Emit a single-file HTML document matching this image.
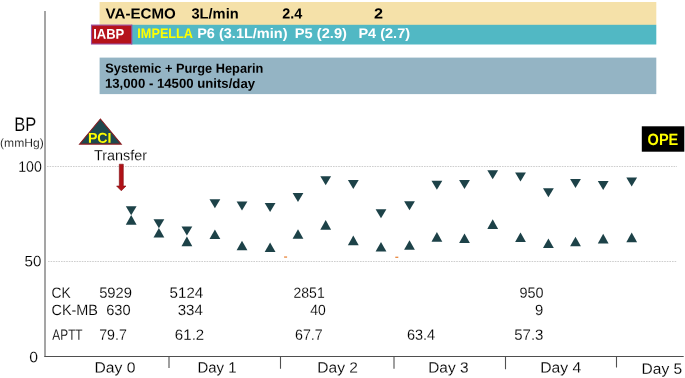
<!DOCTYPE html>
<html><head><meta charset="utf-8"><title>Clinical course</title>
<style>
html,body{margin:0;padding:0;background:#fff;}
svg{display:block;font-family:"Liberation Sans",sans-serif;text-rendering:geometricPrecision;}
.t{stroke:#fff;stroke-width:0.14px;}
</style></head><body>
<svg width="685" height="378" viewBox="0 0 685 378" role="img" aria-label="Clinical course chart">
<rect width="685" height="378" fill="#fff"/>
<rect x="99.6" y="2" width="556.7" height="23" fill="#f5e1a9"/>
<rect x="131" y="24.8" width="525.3" height="19.7" fill="#51b8c4"/>
<rect x="91.5" y="25.1" width="40.3" height="18.9" fill="#b5121b" stroke="#9a4fa0" stroke-width="1.1"/>
<rect x="99.6" y="57.6" width="556.7" height="36.5" fill="#94b4c4"/>
<g stroke="#cecece" stroke-width="1" stroke-dasharray="1.6 1" fill="none">
<path d="M47 166.5H677"/><path d="M48 261.5H677"/>
</g>
<g fill="none">
<path d="M45 11V356.9" stroke="#787878" stroke-width="1.33"/>
<path d="M169 356.4V367.9M394 356.4V368.8" stroke="#707070" stroke-width="1.33"/>
<path d="M280.5 356.4V368.8M505.5 356.4V369.3M616.5 356.4V367.6" stroke="#505050" stroke-width="1.1"/>
<path d="M44.4 356.4H683.7" stroke="#4f4f4f" stroke-width="1.05"/>
</g>
<path d="M100.4 119L121.2 144.1H79.6z" fill="#1f484e" stroke="#8a1c20" stroke-width="1.1" stroke-linejoin="miter"/>
<path d="M119.3 164.2h4v21.8h2.7l-4.7 4.8l-4.7-4.8h2.7z" fill="#b01217" stroke="#7f0d11" stroke-width="0.6" stroke-linejoin="miter"/>
<rect x="641.8" y="126.3" width="42.5" height="25.4" fill="#000"/>
<g fill="#e5721c"><rect x="284.1" y="256.5" width="3" height="1.1"/><rect x="395.3" y="256.7" width="3" height="1.1"/></g>
<g fill="#1d4248">
<path d="M125.8 206.3h10.8l-5.4 9.0z"/>
<path d="M131.2 215.1l5.4 9.6h-10.8z"/>
<path d="M153.5 219.2h10.8l-5.4 9.0z"/>
<path d="M158.9 228.0l5.4 9.6h-10.8z"/>
<path d="M181.5 226.4h10.8l-5.4 9.0z"/>
<path d="M186.9 236.6l5.4 9.6h-10.8z"/>
<path d="M209.5 199.2h10.8l-5.4 9.0z"/>
<path d="M214.9 229.5l5.4 9.6h-10.8z"/>
<path d="M236.6 201.6h10.8l-5.4 9.0z"/>
<path d="M242.0 240.7l5.4 9.6h-10.8z"/>
<path d="M264.7 203.1h10.8l-5.4 9.0z"/>
<path d="M270.1 242.5l5.4 9.6h-10.8z"/>
<path d="M292.6 192.9h10.8l-5.4 9.0z"/>
<path d="M298.0 229.2l5.4 9.6h-10.8z"/>
<path d="M320.3 176.3h10.8l-5.4 9.0z"/>
<path d="M325.7 220.1l5.4 9.6h-10.8z"/>
<path d="M347.9 180.1h10.8l-5.4 9.0z"/>
<path d="M353.3 235.6l5.4 9.6h-10.8z"/>
<path d="M375.6 209.2h10.8l-5.4 9.0z"/>
<path d="M381.0 242.0l5.4 9.6h-10.8z"/>
<path d="M404.1 201.3h10.8l-5.4 9.0z"/>
<path d="M409.5 240.2l5.4 9.6h-10.8z"/>
<path d="M431.5 180.7h10.8l-5.4 9.0z"/>
<path d="M436.9 232.1l5.4 9.6h-10.8z"/>
<path d="M459.1 180.1h10.8l-5.4 9.0z"/>
<path d="M464.5 233.5l5.4 9.6h-10.8z"/>
<path d="M487.3 170.2h10.8l-5.4 9.0z"/>
<path d="M492.7 219.3l5.4 9.6h-10.8z"/>
<path d="M515.1 172.5h10.8l-5.4 9.0z"/>
<path d="M520.5 232.4l5.4 9.6h-10.8z"/>
<path d="M543.0 188.2h10.8l-5.4 9.0z"/>
<path d="M548.4 238.5l5.4 9.6h-10.8z"/>
<path d="M570.1 178.9h10.8l-5.4 9.0z"/>
<path d="M575.5 236.7l5.4 9.6h-10.8z"/>
<path d="M597.8 181.0h10.8l-5.4 9.0z"/>
<path d="M603.2 233.8l5.4 9.6h-10.8z"/>
<path d="M626.3 177.5h10.8l-5.4 9.0z"/>
<path d="M631.7 232.6l5.4 9.6h-10.8z"/>
</g>
<text transform="matrix(1.0400 0.0006 0 1 105.54 18.50)" font-size="14.54" font-weight="bold" fill="#000">VA-ECMO</text>
<text transform="matrix(1.0085 0.0006 0 1 191.45 18.50)" font-size="14.54" font-weight="bold" fill="#000">3L/min</text>
<text transform="matrix(0.9884 0.0006 0 1 282.16 18.50)" font-size="14.54" font-weight="bold" fill="#000">2.4</text>
<text transform="matrix(1.1164 0.0006 0 1 374.04 18.50)" font-size="14.54" font-weight="bold" fill="#000">2</text>
<text transform="matrix(0.9228 0.0006 0 1 93.13 38.70)" font-size="14.1" font-weight="bold" fill="#fff">IABP</text>
<text transform="matrix(0.9099 0.0006 0 1 137.35 37.90)" font-size="13.95" font-weight="bold" fill="#ffff00">IMPELLA</text>
<text transform="matrix(1.0419 0.0006 0 1 197.15 37.90)" font-size="13.95" font-weight="bold" fill="#fff">P6 (3.1L/min)</text>
<text transform="matrix(1.0504 0.0006 0 1 294.83 37.90)" font-size="13.95" font-weight="bold" fill="#fff">P5 (2.9)</text>
<text transform="matrix(1.0424 0.0006 0 1 358.39 37.90)" font-size="13.95" font-weight="bold" fill="#fff">P4 (2.7)</text>
<text transform="matrix(0.9768 0.0006 0 1 105.35 72.60)" font-size="13.08" font-weight="bold" fill="#000">Systemic + Purge Heparin</text>
<text transform="matrix(1.0071 0.0006 0 1 104.96 87.80)" font-size="13.08" font-weight="bold" fill="#000">13,000 - 14500 units/day</text>
<text transform="matrix(0.8432 0.0006 0 1 14.25 130.90)" font-size="19.62" font-weight="normal" fill="#000" class="t">BP</text>
<text transform="matrix(1.0402 0.0006 0 1 0.05 146.80)" font-size="11.63" font-weight="normal" fill="#000" class="t">(mmHg)</text>
<text transform="matrix(0.9441 0.0006 0 1 18.20 171.70)" font-size="14.97" font-weight="normal" fill="#000" class="t">100</text>
<text transform="matrix(1.0123 0.0006 0 1 24.49 266.30)" font-size="14.97" font-weight="normal" fill="#000" class="t">50</text>
<text transform="matrix(1.0541 0.0006 0 1 29.25 362.30)" font-size="14.97" font-weight="normal" fill="#000" class="t">0</text>
<text transform="matrix(0.9943 0.0006 0 1 87.92 142.80)" font-size="14.24" font-weight="bold" fill="#ffff00">PCI</text>
<text transform="matrix(0.9914 0.0006 0 1 93.94 160.30)" font-size="14.54" font-weight="normal" fill="#000" class="t">Transfer</text>
<text transform="matrix(0.8860 0.0006 0 1 647.58 144.90)" font-size="16.42" font-weight="bold" fill="#ffff00">OPE</text>
<text transform="matrix(0.9310 0.0006 0 1 51.55 297.70)" font-size="14.83" font-weight="normal" fill="#000" class="t">CK</text>
<text transform="matrix(0.9985 0.0006 0 1 99.14 297.70)" font-size="14.83" font-weight="normal" fill="#000" class="t">5929</text>
<text transform="matrix(1.0186 0.0006 0 1 169.58 297.70)" font-size="14.83" font-weight="normal" fill="#000" class="t">5124</text>
<text transform="matrix(0.9446 0.0006 0 1 293.51 297.70)" font-size="14.83" font-weight="normal" fill="#000" class="t">2851</text>
<text transform="matrix(0.9734 0.0006 0 1 519.54 297.70)" font-size="14.83" font-weight="normal" fill="#000" class="t">950</text>
<text transform="matrix(0.9735 0.0006 0 1 51.46 315.00)" font-size="14.83" font-weight="normal" fill="#000" class="t">CK-MB</text>
<text transform="matrix(0.9873 0.0006 0 1 106.18 315.00)" font-size="14.83" font-weight="normal" fill="#000" class="t">630</text>
<text transform="matrix(1.0145 0.0006 0 1 177.73 315.00)" font-size="14.83" font-weight="normal" fill="#000" class="t">334</text>
<text transform="matrix(0.9394 0.0006 0 1 310.17 315.00)" font-size="14.83" font-weight="normal" fill="#000" class="t">40</text>
<text transform="matrix(0.9991 0.0006 0 1 535.07 315.00)" font-size="14.83" font-weight="normal" fill="#000" class="t">9</text>
<text transform="matrix(0.7970 0.0006 0 1 52.36 339.80)" font-size="14.83" font-weight="normal" fill="#000" class="t">APTT</text>
<text transform="matrix(0.9576 0.0006 0 1 99.14 339.80)" font-size="14.83" font-weight="normal" fill="#000" class="t">79.7</text>
<text transform="matrix(1.0161 0.0006 0 1 174.87 339.80)" font-size="14.83" font-weight="normal" fill="#000" class="t">61.2</text>
<text transform="matrix(0.9597 0.0006 0 1 294.98 339.80)" font-size="14.83" font-weight="normal" fill="#000" class="t">67.7</text>
<text transform="matrix(0.9751 0.0006 0 1 406.95 339.80)" font-size="14.83" font-weight="normal" fill="#000" class="t">63.4</text>
<text transform="matrix(1.0111 0.0006 0 1 514.20 339.80)" font-size="14.83" font-weight="normal" fill="#000" class="t">57.3</text>
<text transform="matrix(1.0580 0.0006 0 1 94.39 372.40)" font-size="14.83" font-weight="normal" fill="#000" class="t">Day 0</text>
<text transform="matrix(1.0076 0.0006 0 1 197.45 372.40)" font-size="14.83" font-weight="normal" fill="#000" class="t">Day 1</text>
<text transform="matrix(1.0509 0.0006 0 1 317.28 372.40)" font-size="14.83" font-weight="normal" fill="#000" class="t">Day 2</text>
<text transform="matrix(1.0376 0.0006 0 1 428.24 372.40)" font-size="14.83" font-weight="normal" fill="#000" class="t">Day 3</text>
<text transform="matrix(1.0603 0.0006 0 1 540.24 372.40)" font-size="14.83" font-weight="normal" fill="#000" class="t">Day 4</text>
<text transform="matrix(1.0490 0.0006 0 1 641.60 373.80)" font-size="14.83" font-weight="normal" fill="#000" class="t">Day 5</text>
</svg>
</body></html>
